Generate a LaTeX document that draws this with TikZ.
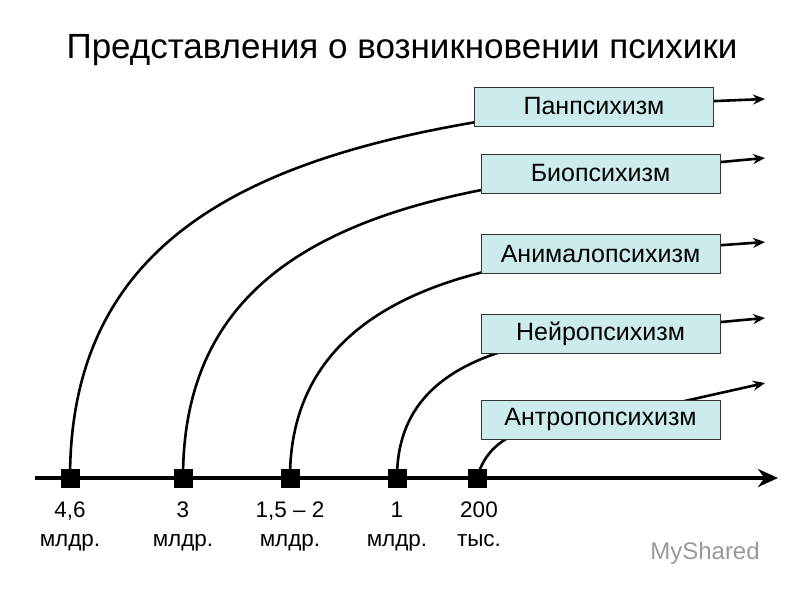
\documentclass[tikz,border=0pt]{standalone}
\usepackage{fontspec}
\setmainfont{Liberation Sans}
\usetikzlibrary{arrows.meta}
\begin{document}
\begin{tikzpicture}[x=1pt,y=-1pt,
  box/.style={draw=black!80,fill=boxfill,line width=1pt,minimum width=239pt,minimum height=39pt,font=\fontsize{25}{28}\selectfont,inner sep=0pt},
  curve/.style={line width=2.6pt,-{Stealth[length=12pt,width=10pt]}},
  mk/.style={fill=black,minimum size=19pt,inner sep=0pt},
  lab/.style={font=\fontsize{22.5}{29}\selectfont,align=center,anchor=north}]
\definecolor{boxfill}{HTML}{CCECEC}
\useasboundingbox (0,0) rectangle (800,600);
\node[font=\fontsize{35}{40}\selectfont] (t) at (402,50) {Представления о возникновении психики};
\draw[line width=4.5pt,-{Stealth[length=20pt,width=18pt]}] (35,478) coordinate (a0) -- (778,478) coordinate (a1);
\foreach \n/\x in {m1/70,m2/183,m3/290,m4/397,m5/477}{\node[mk] (\n) at (\x,478) {};}
\coordinate (e1) at (765,99);
\coordinate (e2) at (765,158);
\coordinate (e3) at (765,242);
\coordinate (e4) at (765,318);
\coordinate (e5) at (765,383);
\draw[curve] (m1.center) .. controls (70,220) and (280,140) .. (594,106) -- (e1);
\draw[curve] (m2.center) .. controls (183,280) and (330,200) .. (600,173) -- (e2);
\draw[curve] (m3.center) .. controls (290,340) and (400,270) .. (600,254) -- (e3);
\draw[curve] (m4.center) .. controls (397,380) and (480,345) .. (600,333) -- (e4);
\draw[curve] (m5.center) .. controls (490,430) and (540,422) .. (600,420) -- (e5);
\node[box] (b1) at (594,106.5) {Панпсихизм};
\node[box] (b2) at (600.5,173.5) {Биопсихизм};
\node[box] (b3) at (600.5,254) {Анималопсихизм};
\node[box] (b4) at (600.5,333.5) {Нейропсихизм};
\node[box] (b5) at (600.5,419.5) {Антропопсихизм};
\foreach \n/\x/\t in {l1/70/{4,6\\млдр.},l2/183/{3\\млдр.},l3/290/{1,5 – 2\\млдр.},l4/397/{1\\млдр.},l5/479/{200\\тыс.}}{\node[lab] (\n) at (\x,498) {\t};}
\node[font=\fontsize{24}{28}\selectfont,text=black!40] (w) at (705,553) {MyShared};
\end{tikzpicture}
\end{document}
